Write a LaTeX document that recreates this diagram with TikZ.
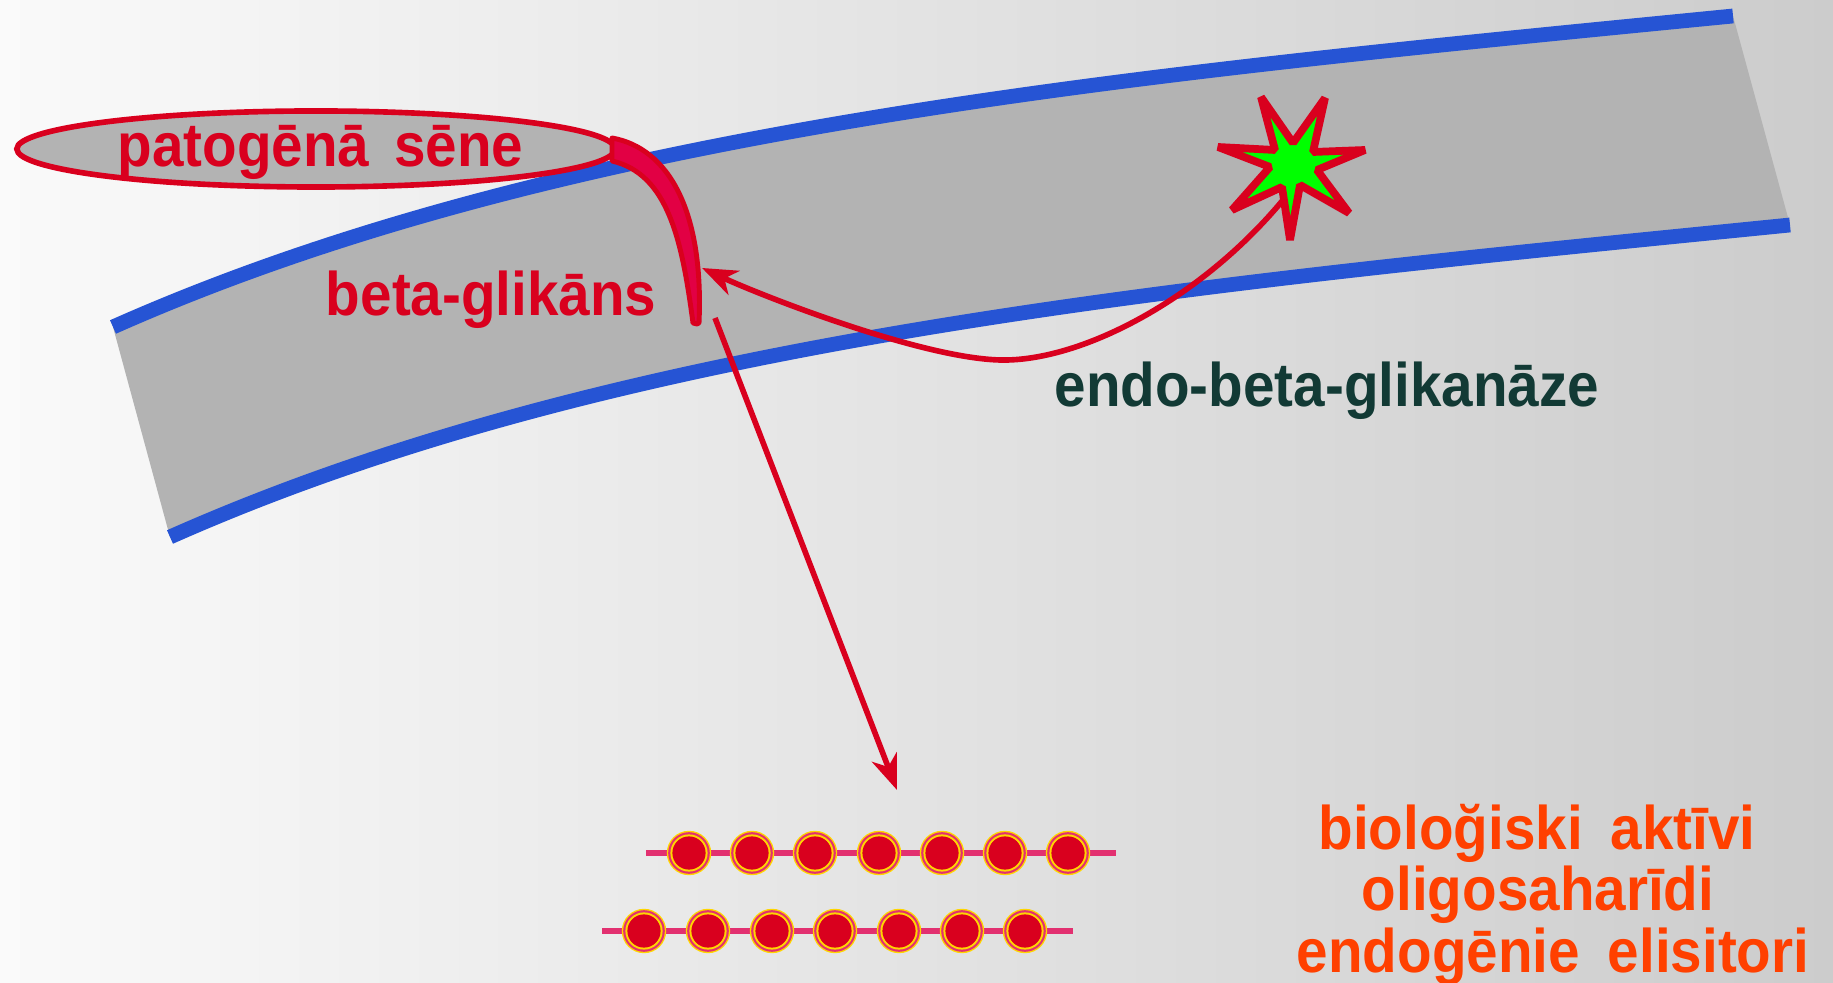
\documentclass[tikz,border=0pt]{standalone}
\usepackage{fontspec}
\newfontfamily\lblfont[FakeStretch=0.92]{Liberation Sans}
\usetikzlibrary{arrows.meta,calc}

\definecolor{bgL}{RGB}{250,250,250}
\definecolor{bgR}{RGB}{204,204,204}
\definecolor{wallgray}{RGB}{179,179,179}
\definecolor{wallblue}{RGB}{38,84,212}
\definecolor{fungred}{RGB}{217,0,30}
\definecolor{hookred}{RGB}{226,0,68}
\definecolor{enzgreen}{RGB}{0,255,0}
\definecolor{enzteal}{RGB}{18,58,53}
\definecolor{oligoorange}{RGB}{255,64,0}
\definecolor{beadyellow}{RGB}{255,214,0}
\definecolor{beadpink}{RGB}{226,48,112}

\begin{document}
\begin{tikzpicture}[x=0.01cm,y=-0.01cm,
    lbl/.style={font=\lblfont\bfseries\fontsize{17.5}{21}\selectfont,inner sep=0pt},
    wall/.style={line width=4.2pt,wallblue},
    redarrow/.style={line width=1.6pt,fungred,-{Stealth[length=10pt,width=7.5pt,inset=3pt]}},
    chain/.style={line width=1.5pt,beadpink}]
       \useasboundingbox (0,0) rectangle (1833,983);
       \shade[left color=bgL,right color=bgR] (0,0) rectangle (1833,983);

       % cell wall
       \coordinate (TL) at (113,327);
       \coordinate (TR) at (1733,16);
       \coordinate (BL) at (170,537);
       \coordinate (BR) at (1790,225);

       \fill[wallgray] (TL) .. controls (563,127) and (1133,75) .. (TR) -- (BR)
            .. controls (1190,285) and (620,337) .. (BL) -- cycle;
       \draw[wall] (TL) .. controls (563,127) and (1133,75) .. (TR);
       \draw[wall] (BL) .. controls (620,337) and (1190,285) .. (BR);

       % fungus and its hypha
       \coordinate (F) at (316,149);
       \coordinate (HT) at (697,324);
       \draw[line width=1.6pt,fungred,fill=wallgray] (F) ellipse [x radius=2.99cm,y radius=0.38cm];
       \draw[line width=1.4pt,fungred,fill=hookred,line join=round]
            (612,138) .. controls (668,148) and (704,210) .. (699,323) -- (HT)
            -- (693,323) .. controls (682,240) and (668,174) .. (612,161) -- cycle;

       \node[lbl,fungred,anchor=base west] (fungus) at (117,167) {patogēnā\hspace{0.15em} sēne};
       \node[lbl,fungred,anchor=base east] (glucan) at (657,316) {beta-glikāns};

       % enzyme
       \coordinate (ST) at (1283,200);
       \coordinate (AH) at (702,268);
       \draw[redarrow] (ST) .. controls (1200,300) and (1080,362) .. (1000,360)
            .. controls (920,358) and (760,295) .. (AH);
       \draw[line width=2.2pt,fungred,fill=enzgreen,line join=bevel]
            (1261,97) -- (1293,143) -- (1325,98) -- (1313,152) -- (1365,150)
            -- (1317,170) -- (1349,213) -- (1300,185) -- (1290,240) -- (1282,187)
            -- (1232,210) -- (1270,167) -- (1218,147) -- (1275,150) -- cycle;
       \node[lbl,enzteal,anchor=base west] (enzyme) at (1054,407) {endo-beta-glikanāze};

       % released oligosaccharides
       \coordinate (AS) at (715,318);
       \coordinate (AE) at (897,790);
       \draw[redarrow] (AS) -- (AE);

       \draw[chain] (646,853) -- (1116,853);
       \draw[chain] (602,931) -- (1073,931);
       \foreach \bx/\by in {689/853,752/853,815/853,879/853,942/853,1005/853,1068/853,
                            644/931,708/931,772/931,835/931,899/931,962/931,1025/931}{
         \fill[beadyellow] (\bx,\by) circle (0.222cm);
         \fill[beadpink] (\bx,\by) circle (0.208cm);
         \fill[beadyellow] (\bx,\by) circle (0.186cm);
         \fill[fungred] (\bx,\by) circle (0.166cm);
       }

       \node[lbl,oligoorange,anchor=base] (oligoA) at (1537,850) {bioloğiski\hspace{0.2em} aktīvi};
       \node[lbl,oligoorange,anchor=base] (oligoB) at (1538,911) {oligosaharīdi};
       \node[lbl,oligoorange,anchor=base] (oligoC) at (1553,973) {endogēnie\hspace{0.2em} elisitori};
     \end{tikzpicture}
\end{document}
